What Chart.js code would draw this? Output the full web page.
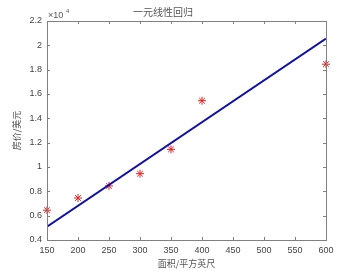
<!DOCTYPE html>
<html>
<head>
<meta charset="utf-8">
<script src="https://cdn.jsdelivr.net/npm/chart.js@4"></script>
<style>
  html, body { margin: 0; padding: 0; background: #fff; }
  #wrap { width: 361px; height: 271px; }
</style>
</head>
<body>
<div id="wrap"><canvas id="chart" width="361" height="271"></canvas></div>
<script>
// 面积 (平方英尺) 与 房价 (美元)
const areas = [150, 200, 250, 300, 350, 400, 600];
const prices = [6450, 7450, 8450, 9450, 11450, 15450, 18450];

// 拟合直线两端
const fitX = [150, 600];
const fitY = [5100, 20550];

const xTicks = [150, 200, 250, 300, 350, 400, 450, 500, 550, 600];
const yTicks = [4000, 6000, 8000, 10000, 12000, 14000, 16000, 18000, 20000, 22000];

const axisColor = '#808080';
const cjkFont = '"Noto Sans CJK SC", sans-serif';

// box + inward ticks + x10^4 label
const boxPlugin = {
  id: 'box',
  afterDraw(chart) {
    const { ctx, chartArea: a, scales } = chart;
    ctx.save();
    ctx.strokeStyle = axisColor;
    ctx.lineWidth = 1;
    ctx.strokeRect(a.left + 0.5, a.top + 0.5, a.right - a.left, a.bottom - a.top);
    ctx.beginPath();
    xTicks.forEach(v => {
      const px = Math.round(scales.x.getPixelForValue(v)) + 0.5;
      ctx.moveTo(px, a.bottom); ctx.lineTo(px, a.bottom - 3);
      ctx.moveTo(px, a.top); ctx.lineTo(px, a.top + 3);
    });
    yTicks.forEach(v => {
      const py = Math.round(scales.y.getPixelForValue(v)) + 0.5;
      ctx.moveTo(a.left, py); ctx.lineTo(a.left + 3, py);
      ctx.moveTo(a.right, py); ctx.lineTo(a.right - 3, py);
    });
    ctx.stroke();
    ctx.fillStyle = '#555';
    ctx.font = '9px "Liberation Sans", Arial, sans-serif';
    ctx.textBaseline = 'alphabetic';
    ctx.fillText('\u00d710', a.left + 1, a.top - 3);
    ctx.font = '6px "Liberation Sans", Arial, sans-serif';
    ctx.fillText('4', a.left + 19, a.top - 8);
    ctx.restore();
  }
};

new Chart(document.getElementById('chart'), {
  type: 'scatter',
  data: {
    datasets: [
      {
        label: '样本',
        data: areas.map((x, i) => ({ x, y: prices[i] })),
        pointStyle: 'star',
        pointRadius: 4,
        borderColor: '#e02020',
        borderWidth: 1,
        backgroundColor: '#e02020',
        clip: false,
        order: 2
      },
      {
        label: '拟合',
        type: 'line',
        data: fitX.map((x, i) => ({ x, y: fitY[i] })),
        borderColor: '#1010a8',
        borderWidth: 2,
        pointRadius: 0,
        fill: false,
        order: 1
      }
    ]
  },
  options: {
    responsive: false,
    animation: false,
    layout: { padding: { left: 0, right: 35, top: 0, bottom: 0 } },
    plugins: {
      legend: { display: false },
      tooltip: { enabled: false },
      title: {
        display: true,
        text: '一元线性回归',
        color: '#555',
        font: { family: cjkFont, size: 10, weight: 'normal' },
        padding: { top: 6, bottom: 3 }
      }
    },
    scales: {
      x: {
        type: 'linear',
        min: 150,
        max: 600,
        afterBuildTicks: s => { s.ticks = xTicks.map(v => ({ value: v })); },
        afterFit: s => { s.height = 31; },
        grid: { display: false, drawTicks: false },
        border: { display: true, color: axisColor },
        ticks: { color: '#444', padding: 5, font: { family: '"Liberation Sans", Arial', size: 9 } },
        title: {
          display: true,
          text: '面积/平方英尺',
          color: '#555',
          font: { family: cjkFont, size: 9 },
          padding: { top: 0, bottom: 2 }
        }
      },
      y: {
        type: 'linear',
        min: 4000,
        max: 22000,
        afterBuildTicks: s => { s.ticks = yTicks.map(v => ({ value: v })); },
        afterFit: s => { s.width = 47; },
        grid: { display: false, drawTicks: false },
        border: { display: true, color: axisColor },
        ticks: {
          color: '#444',
          padding: 5,
          font: { family: '"Liberation Sans", Arial', size: 9 },
          callback: v => String(Math.round(v / 1000) / 10)
        },
        title: {
          display: true,
          text: '房价/美元',
          color: '#555',
          font: { family: cjkFont, size: 9 },
          padding: { top: 11, bottom: 0 }
        }
      }
    }
  },
  plugins: [boxPlugin]
});
</script>
</body>
</html>
